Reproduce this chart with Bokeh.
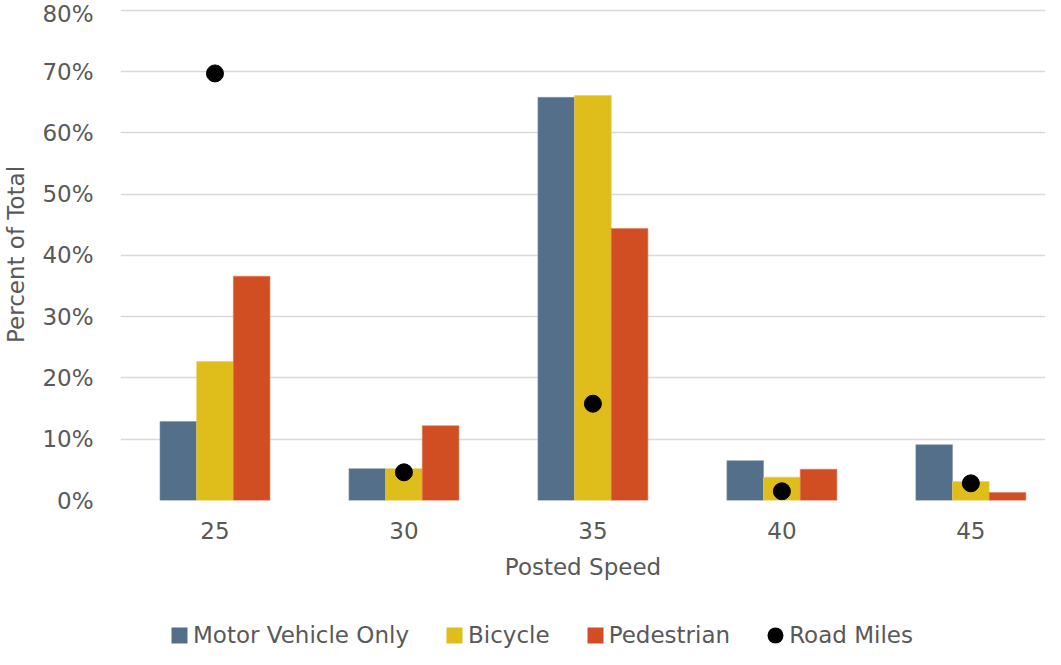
from bokeh.plotting import figure
from bokeh.models import ColumnDataSource, Legend, LegendItem, FixedTicker, PrintfTickFormatter, Range1d
from bokeh.transform import dodge
from bokeh.layouts import column
from bokeh.embed import file_html
from bokeh.resources import INLINE

categories = ["25", "30", "35", "40", "45"]
motor_vehicle = [12.9, 5.2, 65.8, 6.5, 9.1]
bicycle = [22.7, 5.2, 66.1, 3.8, 3.1]
pedestrian = [36.6, 12.2, 44.4, 5.1, 1.3]
road_miles = [69.7, 4.6, 15.8, 1.5, 2.8]
y_ticks = [0, 10, 20, 30, 40, 50, 60, 70, 80]
series_names = ["Motor Vehicle Only", "Bicycle", "Pedestrian", "Road Miles"]

FONT = "DejaVu Sans"
FS = "23px"
TXT = "#595959"
BW = 0.194
C_MV, C_BI, C_PE = "#536F8A", "#DFBD1B", "#D14D22"

xs = list(range(len(categories)))
src = ColumnDataSource(dict(x=xs, motor=motor_vehicle, bicycle=bicycle,
                            pedestrian=pedestrian, road=road_miles))

p = figure(width=1045, height=600, output_backend="svg", toolbar_location=None,
           x_range=Range1d(-0.5, 4.395), y_range=Range1d(0, 80.3),
           min_border_left=110, min_border_right=0, min_border_top=8,
           min_border_bottom=100)
p.outline_line_color = None

p.vbar(x=dodge("x", -BW), top="motor", width=BW, source=src,
       fill_color=C_MV, line_color="#7f93a8", line_width=0.6)
p.vbar(x="x", top="bicycle", width=BW, source=src,
       fill_color=C_BI, line_color="#e8cf5a", line_width=0.6)
p.vbar(x=dodge("x", BW), top="pedestrian", width=BW, source=src,
       fill_color=C_PE, line_color="#e07a5a", line_width=0.6)
p.scatter(x="x", y="road", size=17, source=src, fill_color="black", line_color="black")

p.xgrid.grid_line_color = None
p.ygrid.grid_line_color = "#d9d9d9"
p.ygrid.grid_line_width = 1.6

p.yaxis.ticker = FixedTicker(ticks=y_ticks)
p.yaxis.formatter = PrintfTickFormatter(format="%d%%")
p.yaxis.axis_line_color = None
p.yaxis.major_tick_line_color = None
p.yaxis.minor_tick_line_color = None
p.yaxis.major_label_standoff = 21
p.yaxis.axis_label = "Percent of Total"
p.yaxis.axis_label_standoff = 10

p.xaxis.ticker = FixedTicker(ticks=xs)
p.xaxis.major_label_overrides = {i: c for i, c in zip(xs, categories)}
p.xaxis.axis_line_color = None
p.xaxis.major_tick_line_color = None
p.xaxis.minor_tick_line_color = None
p.xaxis.major_label_standoff = 15
p.xaxis.axis_label = "Posted Speed"
p.xaxis.axis_label_standoff = 12

for ax in (p.xaxis[0], p.yaxis[0]):
    ax.major_label_text_font = FONT
    ax.major_label_text_font_size = FS
    ax.major_label_text_color = TXT
    ax.axis_label_text_font = FONT
    ax.axis_label_text_font_size = FS
    ax.axis_label_text_font_style = "normal"
    ax.axis_label_text_color = TXT

# legend strip (separate figure; its glyphs sit outside its visible range)
q = figure(width=1045, height=49, output_backend="svg", toolbar_location=None,
           x_range=Range1d(-100, -99), y_range=Range1d(-100, -99),
           x_axis_type=None, y_axis_type=None,
           min_border_left=0, min_border_right=0, min_border_top=0, min_border_bottom=0)
q.outline_line_color = None
q.xgrid.grid_line_color = None
q.ygrid.grid_line_color = None
l1 = q.vbar(x="x", top="motor", width=BW, source=src, fill_color=C_MV, line_color=None)
l2 = q.vbar(x="x", top="bicycle", width=BW, source=src, fill_color=C_BI, line_color=None)
l3 = q.vbar(x="x", top="pedestrian", width=BW, source=src, fill_color=C_PE, line_color=None)
l4 = q.ellipse(x="x", y="road", width=20, height=20, width_units="screen",
               height_units="screen", source=src, fill_color="black", line_color=None)

legend = Legend(items=[LegendItem(label=n, renderers=[r])
                       for n, r in zip(series_names, [l1, l2, l3, l4])],
                orientation="horizontal", location=(49, 1))
legend.label_text_font = FONT
legend.label_text_font_size = FS
legend.label_text_color = TXT
legend.glyph_width = 20
legend.glyph_height = 20
legend.label_standoff = 4
legend.spacing = 35
legend.padding = 0
legend.margin = 0
legend.border_line_color = None
legend.background_fill_alpha = 0
q.add_layout(legend, "center")

layout = column(p, q, spacing=0)
open("out.html", "w").write(file_html(layout, INLINE))
